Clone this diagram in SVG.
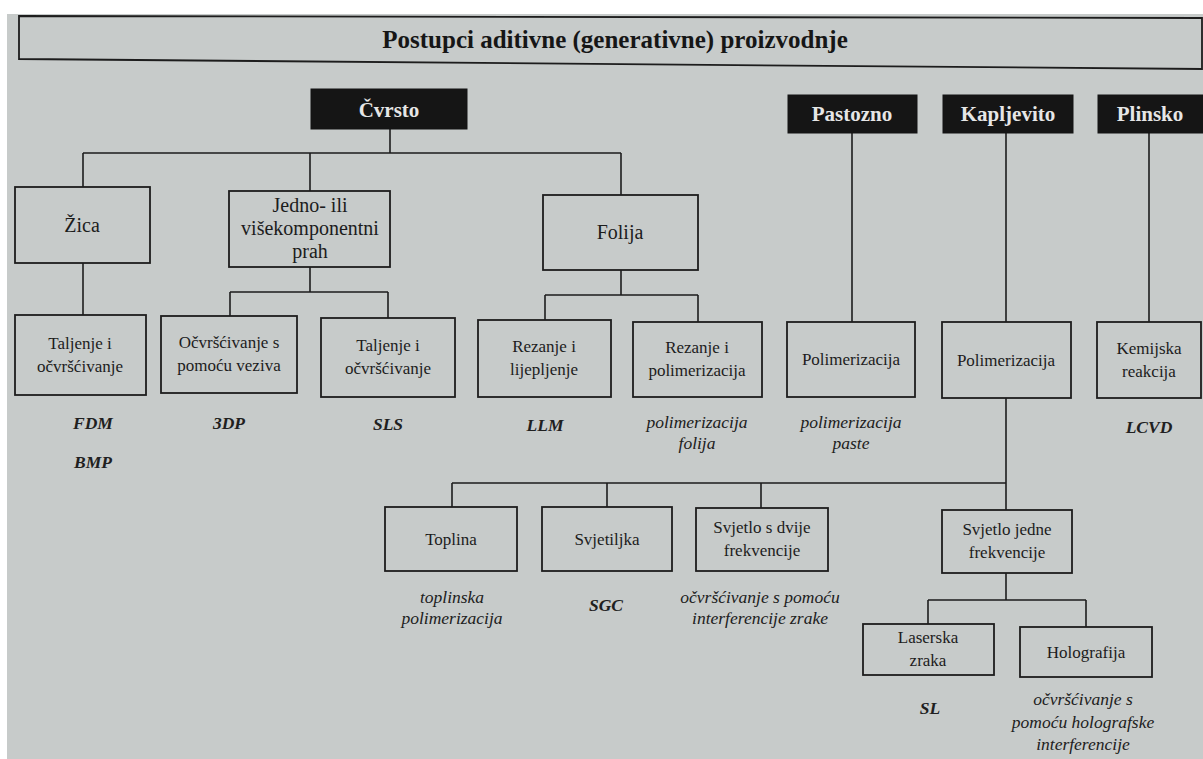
<svg xmlns="http://www.w3.org/2000/svg" width="1203" height="759" viewBox="0 0 1203 759">
<style>
.box{fill:none;stroke:#1d1d1d;stroke-width:1.8}
.hdr{fill:#151515;stroke:#151515;stroke-width:1}
.con{fill:none;stroke:#1d1d1d;stroke-width:1.6}
.t{font-family:"Liberation Serif","Times New Roman",serif;font-size:17px;fill:#1c1c1c;text-anchor:middle}
.t2{font-size:20px}
.ht{font-family:"Liberation Serif","Times New Roman",serif;font-weight:bold;font-size:21px;fill:#e6e6e6;text-anchor:middle}
.title{font-family:"Liberation Serif","Times New Roman",serif;font-weight:bold;font-size:25px;fill:#161616;text-anchor:middle}
.lab{font-family:"Liberation Serif","Times New Roman",serif;font-style:italic;font-size:17.5px;fill:#202020;text-anchor:middle}
.ab{font-weight:bold}
</style>
<rect width="1203" height="759" fill="#ffffff"/>
<rect x="7" y="14" width="1196" height="745" fill="#c7cbca"/>

<g id="title">
<polygon class="box" points="19,16 1202,18 1202,69 19,59"/>
<text class="title" x="615" y="48">Postupci aditivne (generativne) proizvodnje</text>
</g>

<g id="connectors">
<path class="con" d="M390,129V153M83,153H621M83,153V187M310,153V191M621,153V195"/>
<path class="con" d="M83,263V315"/>
<path class="con" d="M310,267V292M230,292H388M230,292V316M388,292V318"/>
<path class="con" d="M621,270V295M545,295H698M545,295V320M698,295V322"/>
<path class="con" d="M852,133V322M1006,133V322M1149,133V322"/>
<path class="con" d="M1006,398V510M452,483H1006M452,483V507M607,483V507M761,483V508"/>
<path class="con" d="M1006,573V600M928,600H1086M928,600V624M1086,600V627"/>
</g>

<g id="cvrsto"><rect class="hdr" x="311" y="89" width="156" height="40"/><text class="ht" x="389" y="117">Čvrsto</text></g>
<g id="pastozno"><rect class="hdr" x="788" y="95" width="129" height="38"/><text class="ht" x="852" y="121">Pastozno</text></g>
<g id="kapljevito"><rect class="hdr" x="943" y="95" width="130" height="38"/><text class="ht" x="1008" y="121">Kapljevito</text></g>
<g id="plinsko"><rect class="hdr" x="1098" y="95" width="110" height="38"/><text class="ht" x="1150" y="121">Plinsko</text></g>

<g id="zica"><rect class="box" x="15" y="187" width="135" height="76"/><text class="t t2" x="82" y="232">Žica</text></g>
<g id="prah"><rect class="box" x="229" y="191" width="161" height="76"/><text class="t t2" x="310" y="212">Jedno- ili</text><text class="t t2" x="310" y="235">višekomponentni</text><text class="t t2" x="310" y="258">prah</text></g>
<g id="folija"><rect class="box" x="543" y="195" width="155" height="75"/><text class="t t2" x="620" y="239">Folija</text></g>

<g id="taljenje1"><rect class="box" x="15" y="315" width="131" height="80"/><text class="t" x="80" y="349">Taljenje i</text><text class="t" x="80" y="372">očvršćivanje</text></g>
<g id="ocvrscivanje"><rect class="box" x="161" y="316" width="136" height="77"/><text class="t" x="229" y="348">Očvršćivanje s</text><text class="t" x="229" y="371">pomoću veziva</text></g>
<g id="taljenje2"><rect class="box" x="321" y="318" width="134" height="79"/><text class="t" x="388" y="351">Taljenje i</text><text class="t" x="388" y="374">očvršćivanje</text></g>
<g id="rezanje1"><rect class="box" x="478" y="320" width="133" height="77"/><text class="t" x="544" y="352">Rezanje i</text><text class="t" x="544" y="375">lijepljenje</text></g>
<g id="rezanje2"><rect class="box" x="633" y="322" width="129" height="75"/><text class="t" x="697" y="353">Rezanje i</text><text class="t" x="697" y="376">polimerizacija</text></g>
<g id="polimerizacija1"><rect class="box" x="787" y="322" width="128" height="75"/><text class="t" x="851" y="365">Polimerizacija</text></g>
<g id="polimerizacija2"><rect class="box" x="942" y="322" width="129" height="76"/><text class="t" x="1006" y="366">Polimerizacija</text></g>
<g id="kemijska"><rect class="box" x="1097" y="322" width="104" height="76"/><text class="t" x="1149" y="354">Kemijska</text><text class="t" x="1149" y="377">reakcija</text></g>

<g id="toplina"><rect class="box" x="385" y="507" width="132" height="64"/><text class="t" x="451" y="545">Toplina</text></g>
<g id="svjetiljka"><rect class="box" x="542" y="507" width="130" height="64"/><text class="t" x="607" y="545">Svjetiljka</text></g>
<g id="dvije"><rect class="box" x="696" y="508" width="132" height="63"/><text class="t" x="762" y="533">Svjetlo s dvije</text><text class="t" x="762" y="556">frekvencije</text></g>
<g id="jedne"><rect class="box" x="942" y="510" width="130" height="63"/><text class="t" x="1007" y="535">Svjetlo jedne</text><text class="t" x="1007" y="558">frekvencije</text></g>
<g id="laserska"><rect class="box" x="863" y="624" width="131" height="51"/><text class="t" x="928" y="643">Laserska</text><text class="t" x="928" y="666">zraka</text></g>
<g id="holografija"><rect class="box" x="1020" y="627" width="132" height="50"/><text class="t" x="1086" y="658">Holografija</text></g>

<g id="labels">
<text class="lab ab" x="93" y="429">FDM</text>
<text class="lab ab" x="93" y="468">BMP</text>
<text class="lab ab" x="229" y="429">3DP</text>
<text class="lab ab" x="388" y="430">SLS</text>
<text class="lab ab" x="545" y="431">LLM</text>
<text class="lab" x="697" y="428">polimerizacija</text>
<text class="lab" x="697" y="449">folija</text>
<text class="lab" x="851" y="428">polimerizacija</text>
<text class="lab" x="851" y="449">paste</text>
<text class="lab ab" x="1149" y="433">LCVD</text>
<text class="lab" x="452" y="603">toplinska</text>
<text class="lab" x="452" y="624">polimerizacija</text>
<text class="lab ab" x="606" y="611">SGC</text>
<text class="lab" x="760" y="603">očvršćivanje s pomoću</text>
<text class="lab" x="760" y="624">interferencije zrake</text>
<text class="lab ab" x="930" y="714">SL</text>
<text class="lab" x="1083" y="705">očvršćivanje s</text>
<text class="lab" x="1083" y="728">pomoću holografske</text>
<text class="lab" x="1083" y="750">interferencije</text>
</g>
</svg>
